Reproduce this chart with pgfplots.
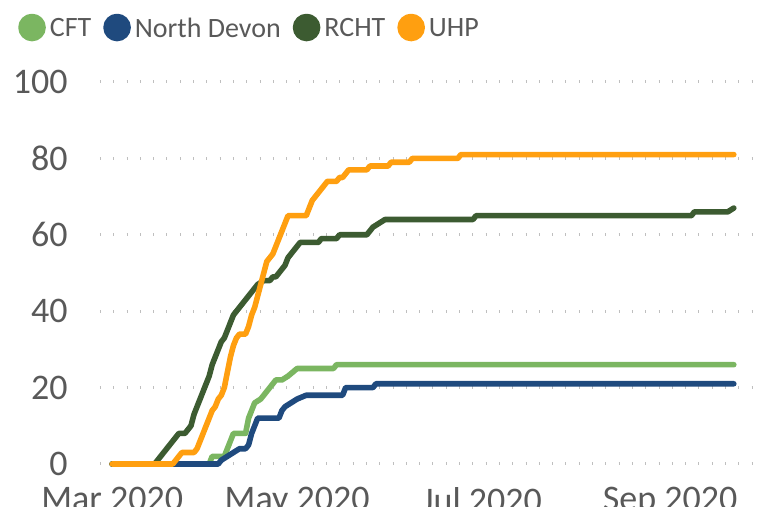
\documentclass[border=0pt]{standalone}
\usepackage{fontspec}
\setmainfont{Carlito}
\usepackage{pgfplots}
\pgfplotsset{compat=1.18}
\definecolor{cft}{HTML}{7BB661}
\definecolor{nd}{HTML}{1F4A7E}
\definecolor{rcht}{HTML}{3C5B31}
\definecolor{uhp}{HTML}{FF9F10}
\definecolor{txt}{HTML}{595959}
\definecolor{grid}{HTML}{BDBDBD}
\begin{document}
\begin{tikzpicture}
\begin{axis}[
  at={(0pt,0pt)}, anchor=south west,
  scale only axis, width=326pt, height=191pt,
  xmin=-4, xmax=211, ymin=0, ymax=100,
  axis line style={draw=none},
  major tick length=0pt,
  ytick={0,20,40,60,80,100},
  xtick={0,61,122,184},
  xticklabels={Mar 2020,May 2020,Jul 2020,Sep 2020},
  xmajorgrids=false,
  ymajorgrids=true,
  major grid style={grid, line width=1.5pt, dash pattern=on 0.1pt off 6.55pt, line cap=butt},
  /pgf/number format/assume math mode=true,
  tick label style={font=\fontsize{18}{20}\selectfont, text=txt},
  yticklabel style={anchor=east, inner sep=0pt, xshift=-16pt},
  xticklabel style={anchor=north, inner sep=0pt, yshift=-11.5pt},
  clip=false,
  legend columns=-1,
  legend style={at={(axis description cs:-0.126,1.141)}, anchor=west, draw=none, fill=none,
    inner sep=0pt, font=\fontsize{14}{16}\selectfont, text=txt,
    /tikz/every odd column/.append style={column sep=0pt},
    /tikz/every even column/.append style={column sep=4pt},
    nodes={inner xsep=2pt, inner ysep=1pt}},
  legend image code/.code={\fill (5.5pt,0.9pt) circle (5.5pt);},
  every axis plot/.append style={line width=2.8pt, line join=round, line cap=round},
]
\addplot[color=cft] coordinates {
(0,0) (32,0) (33,2) (37,2) (38,4) (40,8) (44,8) (45,12) (47,16) (49,17) (51,19) (54,22) (56,22) (58,23) (61,25) (73,25) (74,26) (205,26)
};
\addlegendentry{CFT}
\addplot[color=nd] coordinates {
(0,0) (35,0) (36,1) (38,2) (40,3) (42,4) (44,4) (45,5) (46,8) (47,10) (48,12) (55,12) (56,14) (57,15) (59,16) (61,17) (64,18) (76,18) (77,20) (86,20) (87,21) (205,21)
};
\addlegendentry{North Devon}
\addplot[color=rcht] coordinates {
(0,0) (14,0) (15,1) (16,2) (17,3) (18,4) (19,5) (20,6) (21,7) (22,8) (24,8) (25,9) (26,10) (27,13) (28,15) (29,17) (30,19) (31,21) (32,23) (33,26) (34,28) (35,30) (36,32) (37,33) (38,35) (39,37) (40,39) (41,40) (42,41) (43,42) (44,43) (45,44) (46,45) (47,46) (48,47) (50,48) (52,48) (53,49) (54,49) (55,50) (56,51) (57,52) (58,54) (59,55) (60,56) (61,57) (62,58) (68,58) (69,59) (74,59) (75,60) (84,60) (85,61) (86,62) (88,63) (90,64) (119,64) (120,65) (191,65) (192,66) (203,66) (205,67)
};
\addlegendentry{RCHT}
\addplot[color=uhp] coordinates {
(0,0) (20,0) (21,1) (22,2) (23,3) (27,3) (28,4) (29,6) (30,8) (31,10) (32,12) (33,14) (34,15) (35,17) (36,18) (37,20) (38,24) (39,28) (40,31) (41,33) (42,34) (44,34) (45,36) (46,39) (47,41) (48,44) (49,47) (50,50) (51,53) (52,54) (53,55) (54,57) (55,59) (56,61) (57,63) (58,65) (64,65) (65,67) (66,69) (67,70) (68,71) (69,72) (70,73) (71,74) (74,74) (75,75) (76,75) (77,76) (78,77) (84,77) (85,78) (91,78) (92,79) (98,79) (99,80) (114,80) (115,81) (205,81)
};
\addlegendentry{UHP}
\end{axis}
\pgfresetboundingbox
\path[use as bounding box] (-50pt,-21.5pt) rectangle (331pt,232pt);
\end{tikzpicture}
\end{document}
